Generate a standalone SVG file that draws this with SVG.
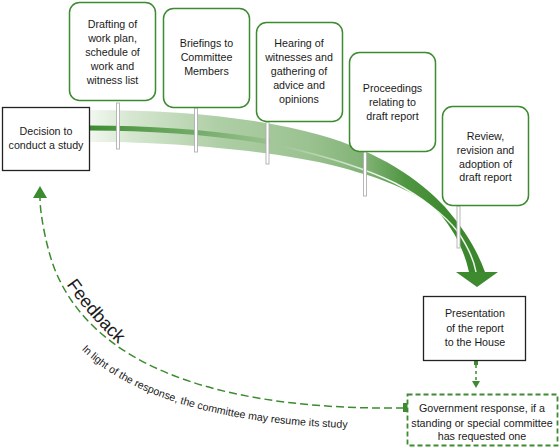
<svg xmlns="http://www.w3.org/2000/svg" width="560" height="447" viewBox="0 0 560 447">
<style>
.t{font-family:"Liberation Sans",Arial,sans-serif;font-size:10.7px;fill:#1a1a1a;text-anchor:middle}
.step{fill:#fff;stroke:#3d8b30;stroke-width:1.5}
.plain{fill:#fff;stroke:#222;stroke-width:1.3}
.stick{fill:#fff;stroke:#b0b0b0;stroke-width:0.9}
.fb{fill:none;stroke:#3d8b30;stroke-width:1.5;stroke-dasharray:8,4}
</style>
<defs>
<linearGradient id="band" gradientUnits="userSpaceOnUse" x1="90" y1="0" x2="485" y2="0">
<stop offset="0" stop-color="#f2f7f0"/>
<stop offset="0.1" stop-color="#d6e7d1"/>
<stop offset="0.33" stop-color="#aecea5"/>
<stop offset="0.55" stop-color="#9bc291"/>
<stop offset="0.7" stop-color="#80b274"/>
<stop offset="0.8" stop-color="#4f9641"/>
<stop offset="0.9" stop-color="#3d8a2f"/>
<stop offset="1" stop-color="#3a852c"/>
</linearGradient>
<linearGradient id="dark" gradientUnits="userSpaceOnUse" x1="90" y1="0" x2="290" y2="0">
<stop offset="0" stop-color="#3d8b30"/>
<stop offset="0.5" stop-color="#3d8b30" stop-opacity="0.6"/>
<stop offset="1" stop-color="#3d8b30" stop-opacity="0"/>
</linearGradient>
<linearGradient id="hl" gradientUnits="userSpaceOnUse" x1="280" y1="0" x2="380" y2="0">
<stop offset="0" stop-color="#fff" stop-opacity="0"/>
<stop offset="1" stop-color="#fff" stop-opacity="0.9"/>
</linearGradient>
<marker id="fbHead" viewBox="0 0 12 14" refX="0" refY="7" markerWidth="12" markerHeight="14" markerUnits="userSpaceOnUse" orient="auto">
<path d="M0,0 L12,7 L0,14 z" fill="#3d8b30"/>
</marker>
<marker id="smHead" viewBox="0 0 7 8" refX="0" refY="4" markerWidth="7" markerHeight="8" markerUnits="userSpaceOnUse" orient="auto">
<path d="M0,0 L7,4 L0,8 z" fill="#3d8b30"/>
</marker>
<path id="fbTextPath" d="M58,272 Q90,322 135,358"/>
<path id="noteTextPath" d="M60,322 C105,400 240,432 404,428"/>
</defs>
<rect width="560" height="447" fill="#fff"/>

<g id="connectors">
<g id="main-arrow">
<path d="M90,110 C180,110 260,118 320,135 C380,152 420,180 445,207 C465,230 477,250 485,272 L469,272 C464,250 455,232 440,214 C425,197 390,181 360,173 C300,152 170,141 90,142 Z" fill="url(#band)"/>
<path d="M90,128 C150,128 210,132 270,142" fill="none" stroke="url(#dark)" stroke-width="5"/>
<path d="M285,147 C320,155 360,166 395,183 C420,196 445,215 458,232 C468,247 474,260 476,272" fill="none" stroke="url(#hl)" stroke-width="1.5"/>
<polygon points="456,272 498,272 477,287" fill="#3d8a2f"/>
</g>
<g id="sticks">
<rect class="stick" x="116.5" y="103" width="3" height="46"/>
<rect class="stick" x="194.5" y="108" width="3" height="44"/>
<rect class="stick" x="266" y="122" width="3" height="42"/>
<rect class="stick" x="363.5" y="152" width="3" height="44"/>
<rect class="stick" x="457" y="206" width="3" height="42"/>
</g>
<g id="to-response">
<rect x="474" y="361" width="4" height="4" fill="#3d8b30"/>
<path d="M476,365 L476,381" fill="none" stroke="#3d8b30" stroke-width="1.5" stroke-dasharray="3,3" marker-end="url(#smHead)"/>
</g>
<g id="feedback">
<path class="fb" d="M404,408 C250,410 100,380 55,270 C47,250 40,215 40,198" marker-end="url(#fbHead)"/>
<rect x="403" y="403" width="9" height="9" fill="#3d8b30"/>
<text font-family="Liberation Sans,Arial,sans-serif" font-size="18" fill="#1a1a1a"><textPath href="#fbTextPath" startOffset="15">Feedback</textPath></text>
<text font-family="Liberation Sans,Arial,sans-serif" font-size="10.6" fill="#1a1a1a"><textPath href="#noteTextPath" startOffset="35">In light of the response, the committee may resume its study</textPath></text>
</g>
</g>

<g id="node-decision">
<rect class="plain" x="2.5" y="107.5" width="87" height="63"/>
<text class="t" x="46" y="135">Decision to</text>
<text class="t" x="46" y="149">conduct a study</text>
</g>
<g id="node-drafting">
<rect class="step" x="69.5" y="2.5" width="86" height="98" rx="10"/>
<text class="t" x="112.5" y="28">Drafting of</text>
<text class="t" x="112.5" y="42">work plan,</text>
<text class="t" x="112.5" y="56">schedule of</text>
<text class="t" x="112.5" y="70">work and</text>
<text class="t" x="112.5" y="84">witness list</text>
</g>
<g id="node-briefings">
<rect class="step" x="163.5" y="8.5" width="86" height="99" rx="10"/>
<text class="t" x="206.5" y="47">Briefings to</text>
<text class="t" x="206.5" y="61">Committee</text>
<text class="t" x="206.5" y="75">Members</text>
</g>
<g id="node-hearing">
<rect class="step" x="256.5" y="22.5" width="86" height="99" rx="10"/>
<text class="t" x="299" y="47">Hearing of</text>
<text class="t" x="299" y="61">witnesses and</text>
<text class="t" x="299" y="75">gathering of</text>
<text class="t" x="299" y="89">advice and</text>
<text class="t" x="299" y="103">opinions</text>
</g>
<g id="node-proceedings">
<rect class="step" x="349.5" y="52.5" width="86" height="99" rx="10"/>
<text class="t" x="392.5" y="92">Proceedings</text>
<text class="t" x="392.5" y="106">relating to</text>
<text class="t" x="392.5" y="120">draft report</text>
</g>
<g id="node-review">
<rect class="step" x="442.5" y="106.5" width="86" height="99" rx="10"/>
<text class="t" x="485.5" y="140">Review,</text>
<text class="t" x="485.5" y="154">revision and</text>
<text class="t" x="485.5" y="168">adoption of</text>
<text class="t" x="485.5" y="181">draft report</text>
</g>
<g id="node-presentation">
<rect class="plain" x="423.5" y="296.5" width="102" height="64"/>
<text class="t" x="475" y="317">Presentation</text>
<text class="t" x="475" y="332">of the report</text>
<text class="t" x="475" y="346">to the House</text>
</g>
<g id="node-response">
<rect x="407.5" y="394.5" width="150" height="51" fill="#fff" stroke="#3d8b30" stroke-width="1.8" stroke-dasharray="5,3"/>
<text class="t" x="482" y="412">Government response, if a</text>
<text class="t" x="482" y="427">standing or special committee</text>
<text class="t" x="482" y="440">has requested one</text>
</g>
</svg>
